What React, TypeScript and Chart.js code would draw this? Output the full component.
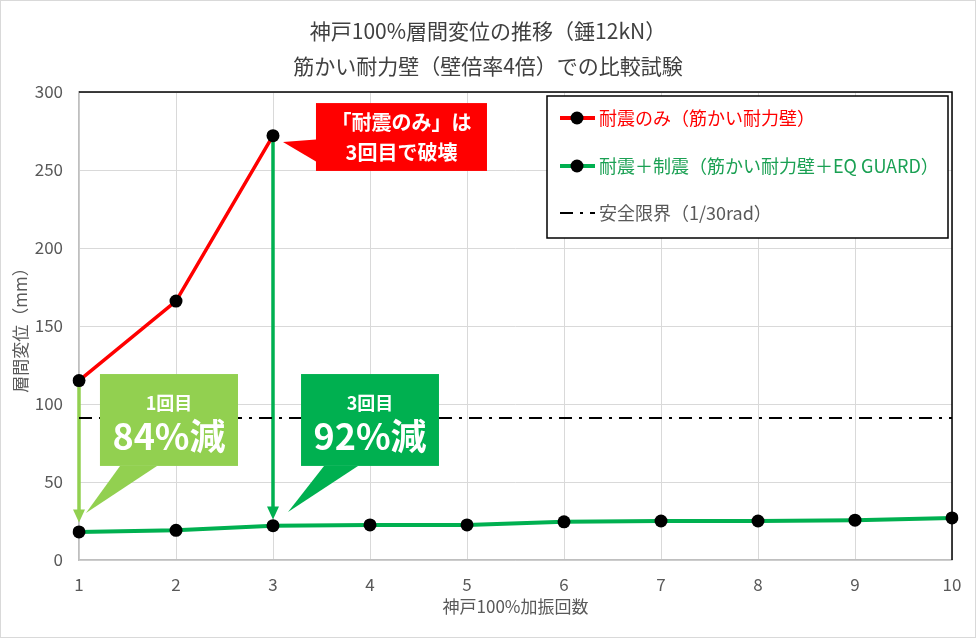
import React, { useEffect, useRef } from "react";
import { Chart, registerables } from "chart.js";

Chart.register(...registerables);

// ---------- data ----------
const categories = ["1", "2", "3", "4", "5", "6", "7", "8", "9", "10"];
const braceOnly = [115, 166, 272, null, null, null, null, null, null, null];
const braceWithDamper = [18, 19, 22, 22.5, 22.5, 24.5, 25, 25, 25.5, 27];
const safetyLimit = [91, 91, 91, 91, 91, 91, 91, 91, 91, 91];
const seriesLabels = [
  "耐震のみ（筋かい耐力壁）",
  "耐震＋制震（筋かい耐力壁＋EQ GUARD）",
  "安全限界（1/30rad）",
];
const titleLines = ["神戸100%層間変位の推移（錘12kN）", "筋かい耐力壁（壁倍率4倍）での比較試験"];
const xAxisTitle = "神戸100%加振回数";
const yAxisTitle = "層間変位（mm）";
const yMin = 0;
const yMax = 300;
const yStep = 50;

// arrows: category index, start value, tip value
const arrowIndex = [0, 2];
const arrowFrom = [115, 272];
const arrowTip = [24, 26];

// callout texts
const calloutTexts = [
  ["1回目", "84%減"],
  ["3回目", "92%減"],
  ["「耐震のみ」は", "3回目で破壊"],
];

// ---------- styles / layout ----------
const FONT = "'Noto Sans CJK JP', 'Noto Sans', sans-serif";
const RED = "#ff0000";
const GREEN = "#00b050";
const LIGHT_GREEN = "#92d050";
const GRAY_TEXT = "#595959";

const arrowColors = [LIGHT_GREEN, GREEN];

// callout boxes defined in data space (x = category index, y = value)
const calloutLayout = [
  {
    x0: 0.216, x1: 1.639, yTop: 119.2, yBot: 60.3,
    tail: [[0.423, 60.3], [0.804, 60.3], [0.072, 30.1]],
    color: LIGHT_GREEN,
    lineFrac: [0.315, 0.675], sizes: [18, 36],
  },
  {
    x0: 2.289, x1: 3.711, yTop: 119.2, yBot: 60.3,
    tail: [[2.526, 60.3], [2.876, 60.3], [2.155, 30.8]],
    color: GREEN,
    lineFrac: [0.315, 0.675], sizes: [18, 36],
  },
  {
    x0: 2.443, x1: 4.206, yTop: 292.9, yBot: 249.4,
    tail: [[2.443, 269.5], [2.443, 255.5], [2.103, 268]],
    color: RED,
    lineFrac: [0.28, 0.72], sizes: [20, 20],
  },
];

const decorPlugin = {
  id: "decor",
  beforeDraw(chart: any) {
    const { ctx, width, height } = chart;
    ctx.save();
    ctx.fillStyle = "#ffffff";
    ctx.fillRect(0, 0, width, height);
    ctx.strokeStyle = "#d9d9d9";
    ctx.lineWidth = 1;
    ctx.strokeRect(0.5, 0.5, width - 1, height - 1);
    // titles
    ctx.fillStyle = "#404040";
    ctx.font = `21px ${FONT}`;
    ctx.textAlign = "center";
    ctx.textBaseline = "middle";
    ctx.fillText(titleLines[0], width / 2, 31);
    ctx.fillText(titleLines[1], width / 2, 66);
    ctx.restore();
  },
  beforeDatasetsDraw(chart: any) {
    const { ctx, chartArea } = chart;
    const xs = chart.scales.x;
    const ys = chart.scales.y;
    ctx.save();
    // top & right black border
    ctx.strokeStyle = "#000000";
    ctx.lineWidth = 1.5;
    ctx.beginPath();
    ctx.moveTo(chartArea.left, chartArea.top);
    ctx.lineTo(chartArea.right, chartArea.top);
    ctx.lineTo(chartArea.right, chartArea.bottom);
    ctx.stroke();
    // arrows
    arrowIndex.forEach((idx, i) => {
      const x = xs.getPixelForValue(idx);
      const y0 = ys.getPixelForValue(arrowFrom[i]);
      const y1 = ys.getPixelForValue(arrowTip[i]);
      const head = 13;
      ctx.strokeStyle = arrowColors[i];
      ctx.fillStyle = arrowColors[i];
      ctx.lineWidth = 3.5;
      ctx.beginPath();
      ctx.moveTo(x, y0);
      ctx.lineTo(x, y1 - head + 1);
      ctx.stroke();
      ctx.beginPath();
      ctx.moveTo(x - 6, y1 - head);
      ctx.lineTo(x + 6, y1 - head);
      ctx.lineTo(x, y1);
      ctx.closePath();
      ctx.fill();
    });
    ctx.restore();
  },
  afterDatasetsDraw(chart: any) {
    const { ctx, chartArea } = chart;
    const xs = chart.scales.x;
    const ys = chart.scales.y;
    ctx.save();
    // callouts
    calloutLayout.forEach((c, i) => {
      const l = xs.getPixelForValue(c.x0);
      const r = xs.getPixelForValue(c.x1);
      const t = ys.getPixelForValue(c.yTop);
      const b = ys.getPixelForValue(c.yBot);
      ctx.fillStyle = c.color;
      ctx.fillRect(l, t, r - l, b - t);
      ctx.beginPath();
      c.tail.forEach((p, k) => {
        const px = xs.getPixelForValue(p[0]);
        const py = ys.getPixelForValue(p[1]);
        if (k === 0) ctx.moveTo(px, py);
        else ctx.lineTo(px, py);
      });
      ctx.closePath();
      ctx.fill();
      ctx.fillStyle = "#ffffff";
      ctx.textAlign = "center";
      ctx.textBaseline = "middle";
      calloutTexts[i].forEach((txt, k) => {
        ctx.font = `bold ${c.sizes[k]}px ${FONT}`;
        ctx.fillText(txt, (l + r) / 2, t + (b - t) * c.lineFrac[k]);
      });
    });

    // legend box
    const lx = chartArea.right - 405;
    const ly = chartArea.top + 4;
    const lw = 401;
    const lh = 142;
    ctx.fillStyle = "#ffffff";
    ctx.fillRect(lx, ly, lw, lh);
    ctx.strokeStyle = "#000000";
    ctx.lineWidth = 1.5;
    ctx.strokeRect(lx, ly, lw, lh);
    const rows = [22, 70, 117];
    const textColors = [RED, "#1aa053", GRAY_TEXT];
    chart.data.datasets.forEach((ds: any, i: number) => {
      const yy = ly + rows[i];
      const sx = lx + 13;
      ctx.save();
      ctx.strokeStyle = ds.borderColor;
      ctx.lineWidth = i === 2 ? 2 : 4;
      ctx.setLineDash(i === 2 ? [13, 7, 3, 7] : []);
      ctx.beginPath();
      ctx.moveTo(sx, yy);
      ctx.lineTo(sx + 35, yy);
      ctx.stroke();
      ctx.restore();
      if (i < 2) {
        ctx.fillStyle = "#000000";
        ctx.beginPath();
        ctx.arc(sx + 17, yy, 6.5, 0, Math.PI * 2);
        ctx.fill();
      }
      ctx.fillStyle = textColors[i];
      ctx.font = `18px ${FONT}`;
      ctx.textAlign = "left";
      ctx.textBaseline = "middle";
      ctx.fillText(ds.label, sx + 39, yy);
    });
    ctx.restore();
  },
};

export default function App() {
  const canvasRef = useRef<HTMLCanvasElement | null>(null);

  useEffect(() => {
    document.body.style.margin = "0";
    const canvas = canvasRef.current;
    if (!canvas) return;
    const chart = new Chart(canvas, {
      type: "line",
      data: {
        labels: categories,
        datasets: [
          {
            label: seriesLabels[0],
            data: braceOnly,
            borderColor: RED,
            backgroundColor: RED,
            borderWidth: 3.5,
            pointRadius: 6.5,
            pointBackgroundColor: "#000000",
            pointBorderWidth: 0,
            pointHoverRadius: 6.5,
            spanGaps: false,
            order: 1,
          },
          {
            label: seriesLabels[1],
            data: braceWithDamper,
            borderColor: GREEN,
            backgroundColor: GREEN,
            borderWidth: 4,
            pointRadius: 6.5,
            pointBackgroundColor: "#000000",
            pointBorderWidth: 0,
            pointHoverRadius: 6.5,
            order: 0,
          },
          {
            label: seriesLabels[2],
            data: safetyLimit,
            borderColor: "#000000",
            backgroundColor: "#000000",
            borderWidth: 2,
            borderDash: [13, 7, 3, 7],
            pointRadius: 0,
            pointHoverRadius: 0,
            order: 2,
          },
        ],
      },
      options: {
        responsive: false,
        animation: false,
        devicePixelRatio: 1,
        layout: { padding: { top: 92, right: 24, left: 0, bottom: 0 } },
        plugins: {
          legend: { display: false },
          title: { display: false },
          tooltip: { enabled: false },
        },
        scales: {
          x: {
            type: "category",
            offset: false,
            grid: { color: "#d9d9d9", lineWidth: 1, drawTicks: false },
            border: { color: "#bfbfbf", width: 1.5 },
            ticks: {
              color: GRAY_TEXT,
              font: { family: FONT, size: 17 },
              padding: 14,
              maxRotation: 0,
            },
            title: {
              display: true,
              text: xAxisTitle,
              color: GRAY_TEXT,
              font: { family: FONT, size: 17 },
              padding: { top: 0, bottom: 21 },
            },
            afterFit(scale: any) {
              scale.height = 78;
            },
          },
          y: {
            min: yMin,
            max: yMax,
            grid: { color: "#d9d9d9", lineWidth: 1, drawTicks: false },
            border: { color: "#bfbfbf", width: 1.5 },
            ticks: {
              stepSize: yStep,
              color: GRAY_TEXT,
              font: { family: FONT, size: 17 },
              padding: 16,
            },
            title: {
              display: true,
              text: yAxisTitle,
              color: GRAY_TEXT,
              font: { family: FONT, size: 17 },
              padding: { top: 10, bottom: 0 },
            },
            afterFit(scale: any) {
              scale.width = 79;
            },
          },
        },
      },
      plugins: [decorPlugin],
    } as any);
    return () => chart.destroy();
  }, []);

  return (
    <div style={{ width: 976, height: 638 }}>
      <canvas ref={canvasRef} width={976} height={638} style={{ display: "block" }} />
    </div>
  );
}
